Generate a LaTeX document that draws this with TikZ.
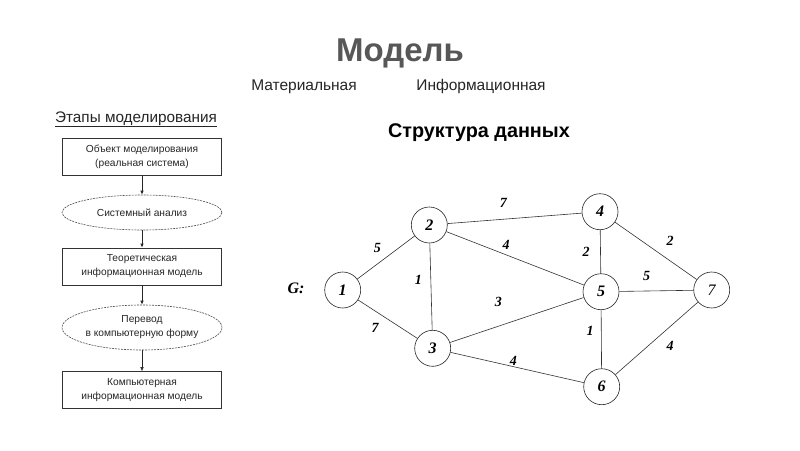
\documentclass[tikz,border=0pt]{standalone}
\usepackage{fontspec}
\setmainfont{Liberation Sans}
\newfontfamily\graphfont{Liberation Serif}
\usetikzlibrary{shapes.geometric,arrows.meta}
\begin{document}
\begin{tikzpicture}[x=1pt,y=-1pt,
  flowbox/.style={draw=black!80,line width=0.7pt,minimum width=159pt,minimum height=37pt,align=center,font=\fontsize{10.2}{14}\selectfont,text=black!85},
  flowell/.style={ellipse,draw=black!70,line width=0.6pt,dash pattern=on 2pt off 1pt,minimum width=160pt,inner sep=0pt,align=center,font=\fontsize{10.2}{14}\selectfont,text=black!85},
  flowarr/.style={-{Latex[length=4pt,width=3.5pt]},line width=0.8pt,black!85},
  vert/.style={circle,draw=black!85,line width=0.6pt,minimum size=36pt,inner sep=0pt,font=\graphfont\bfseries\itshape\fontsize{16}{16}\selectfont},
  edge/.style={draw=black!80,line width=0.6pt},
  wlab/.style={font=\graphfont\bfseries\itshape\fontsize{14}{14}\selectfont,inner sep=0pt}]
\useasboundingbox (0,0) rectangle (800,450);
\fill[white] (0,0) rectangle (800,450);
% headings
\node[anchor=base,font=\bfseries\fontsize{33}{33}\selectfont,text=black!66] (title) at (400,61) {Модель};
\node[anchor=base,font=\fontsize{15.5}{17}\selectfont,text=black!85] (mat) at (304,90) {Материальная};
\node[anchor=base,font=\fontsize{15.5}{17}\selectfont,text=black!85] (inf) at (481,90) {Информационная};
\node[anchor=base,font=\bfseries\fontsize{19.8}{22}\selectfont] (struct) at (479,137) {Структура данных};
\node[anchor=base,font=\fontsize{15.3}{17}\selectfont,text=black!85] (etapy) at (136,122) {\underline{Этапы моделирования}};
% flowchart
\node[flowbox] (b1) at (142,156.7) {Объект моделирования\\(реальная система)};
\node[flowell,minimum height=35pt] (e1) at (142,212.5) {Системный анализ};
\node[flowbox] (b2) at (142,266.5) {Теоретическая\\информационная модель};
\node[flowell,minimum height=45pt] (e2) at (142,327.5) {Перевод\\в компьютерную форму};
\node[flowbox] (b3) at (142,390) {Компьютерная\\информационная модель};
\draw[flowarr] (b1) -- (e1);
\draw[flowarr] (e1) -- (b2);
\draw[flowarr] (b2) -- (e2);
\draw[flowarr,line width=0.5pt] (e2) -- (b3);
% graph
\node[font=\graphfont\bfseries\itshape\fontsize{16}{16}\selectfont] (G) at (296,288) {G:};
\node[vert] (n1) at (342.7,290) {1};
\node[vert] (n2) at (429.3,225) {2};
\node[vert] (n3) at (432.7,348.3) {3};
\node[vert] (n4) at (600,211.7) {4};
\node[vert] (n5) at (601,291.7) {5};
\node[vert] (n6) at (601.7,386.7) {6};
\node[vert,font=\graphfont\itshape\fontsize{16}{16}\selectfont] (n7) at (711.7,290) {7};
\draw[edge] (n1) -- (n2);
\draw[edge] (n1) -- (n3);
\draw[edge] (n2) -- (n3);
\draw[edge] (n2) -- (n4);
\draw[edge] (n2) -- (n5);
\draw[edge] (n3) -- (n5);
\draw[edge] (n3) -- (n6);
\draw[edge] (n4) -- (n5);
\draw[edge] (n4) -- (n7);
\draw[edge] (n5) -- (n7);
\draw[edge] (n5) -- (n6);
\draw[edge] (n6) -- (n7);
\node[wlab] (w12) at (377.3,248) {5};
\node[wlab] (w13) at (375,328) {7};
\node[wlab] (w23) at (418.3,280) {1};
\node[wlab] (w24) at (503.3,203) {7};
\node[wlab] (w25) at (506,245) {4};
\node[wlab] (w35) at (498.3,302) {3};
\node[wlab] (w36) at (513.3,361) {4};
\node[wlab] (w45) at (586,252) {2};
\node[wlab] (w47) at (670,240.5) {2};
\node[wlab] (w57) at (646.7,275.5) {5};
\node[wlab] (w56) at (590,330.5) {1};
\node[wlab] (w67) at (670,345.5) {4};
\end{tikzpicture}
\end{document}
